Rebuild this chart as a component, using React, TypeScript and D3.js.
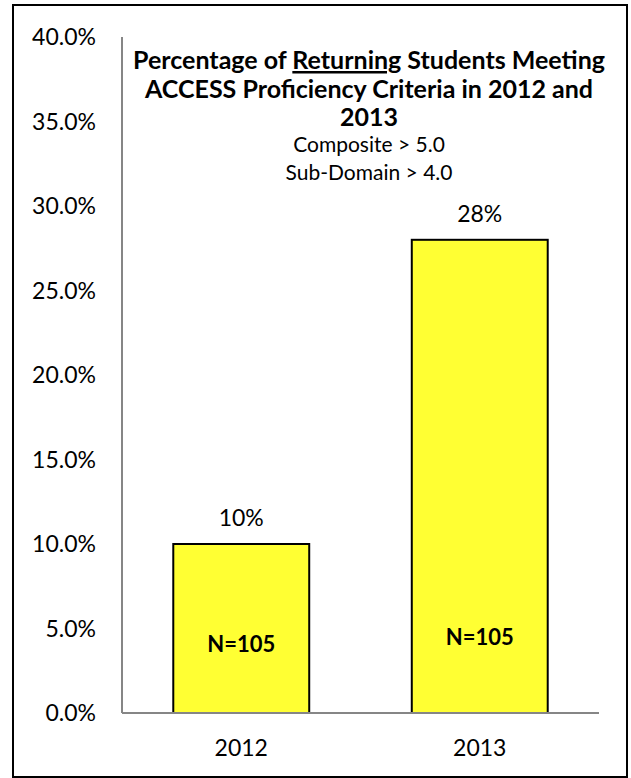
import React, { useEffect, useRef } from "react";
import * as d3 from "d3";

const years = ["2012", "2013"];
const percents = [0.1, 0.28];
const valueLabels = ["10%", "28%"];
const countLabels = ["N=105", "N=105"];
const yTicks = [0, 0.05, 0.1, 0.15, 0.2, 0.25, 0.3, 0.35, 0.4];
const titleLines = [
  ["Percentage of ", "Returning", " Students Meeting"],
  ["ACCESS Proficiency Criteria in 2012 and"],
  ["2013"],
];
const subtitleLines = ["Composite > 5.0", "Sub-Domain > 4.0"];

const W = 631;
const H = 778;
const FONT = "Lato, 'Open Sans', sans-serif";

export default function App() {
  const ref = useRef<SVGSVGElement>(null);

  useEffect(() => {
    const svg = d3.select(ref.current);
    svg.selectAll("*").remove();

    var left = 122;
    var right = 599;
    var top = 37;
    var bottom = 713;

    var x = d3
      .scaleBand()
      .domain(years)
      .range([left, right])
      .paddingInner(0.43)
      .paddingOuter(0.215);

    var y = d3.scaleLinear().domain([0, 0.4]).range([bottom, top]);

    // outer frame
    svg
      .append("rect")
      .attr("x", 13)
      .attr("y", 5)
      .attr("width", 614)
      .attr("height", 772)
      .attr("fill", "white")
      .attr("stroke", "#000")
      .attr("stroke-width", 2);

    // y tick labels
    svg
      .append("g")
      .selectAll("text")
      .data(yTicks)
      .join("text")
      .attr("x", 96)
      .attr("y", (d) => y(d))
      .attr("dy", "0.35em")
      .attr("text-anchor", "end")
      .attr("font-family", FONT)
      .attr("font-size", 23)
      .attr("fill", "#000")
      .text((d) => d3.format(".1%")(d));

    // bars
    svg
      .append("g")
      .selectAll("rect")
      .data(percents)
      .join("rect")
      .attr("x", (d, i) => x(years[i])!)
      .attr("y", (d) => y(d))
      .attr("width", x.bandwidth())
      .attr("height", (d) => y(0) - y(d))
      .attr("fill", "#FFFF33")
      .attr("stroke", "#000")
      .attr("stroke-width", 2);

    // value labels above bars
    svg
      .append("g")
      .selectAll("text")
      .data(percents)
      .join("text")
      .attr("x", (d, i) => x(years[i])! + x.bandwidth() / 2)
      .attr("y", (d) => y(d) - 18)
      .attr("text-anchor", "middle")
      .attr("font-family", FONT)
      .attr("font-size", 23)
      .text((d, i) => valueLabels[i]);

    // N labels inside bars
    svg
      .append("g")
      .selectAll("text")
      .data(percents)
      .join("text")
      .attr("x", (d, i) => x(years[i])! + x.bandwidth() / 2)
      .attr("y", (d, i) => (i === 0 ? 652 : 645))
      .attr("text-anchor", "middle")
      .attr("font-family", FONT)
      .attr("font-weight", "bold")
      .attr("font-size", 22)
      .text((d, i) => countLabels[i]);

    // axes lines
    svg
      .append("line")
      .attr("x1", left)
      .attr("x2", left)
      .attr("y1", top)
      .attr("y2", bottom)
      .attr("stroke", "#868686")
      .attr("stroke-width", 2);
    svg
      .append("line")
      .attr("x1", left)
      .attr("x2", right)
      .attr("y1", bottom)
      .attr("y2", bottom)
      .attr("stroke", "#868686")
      .attr("stroke-width", 2);

    // x labels
    svg
      .append("g")
      .selectAll("text")
      .data(years)
      .join("text")
      .attr("x", (d) => x(d)! + x.bandwidth() / 2)
      .attr("y", 756)
      .attr("text-anchor", "middle")
      .attr("font-family", FONT)
      .attr("font-size", 23)
      .text((d) => d);

    // title
    var cx = 369;
    titleLines.forEach((parts, i) => {
      var t = svg
        .append("text")
        .attr("x", cx)
        .attr("y", 69 + i * 28.5)
        .attr("text-anchor", "middle")
        .attr("font-family", FONT)
        .attr("font-weight", "bold")
        .attr("font-size", 25);
      parts.forEach((p) => {
        t.append("tspan")
          .attr("text-decoration", p === "Returning" ? "underline" : null)
          .text(p);
      });
    });
    subtitleLines.forEach((s, i) => {
      svg
        .append("text")
        .attr("x", cx)
        .attr("y", 152 + i * 27.5)
        .attr("text-anchor", "middle")
        .attr("font-family", FONT)
        .attr("font-size", 21)
        .text(s);
    });
  }, []);

  return <svg ref={ref} width={W} height={H} style={{ display: "block", position: "absolute", left: 0, top: 0 }} />;
}
